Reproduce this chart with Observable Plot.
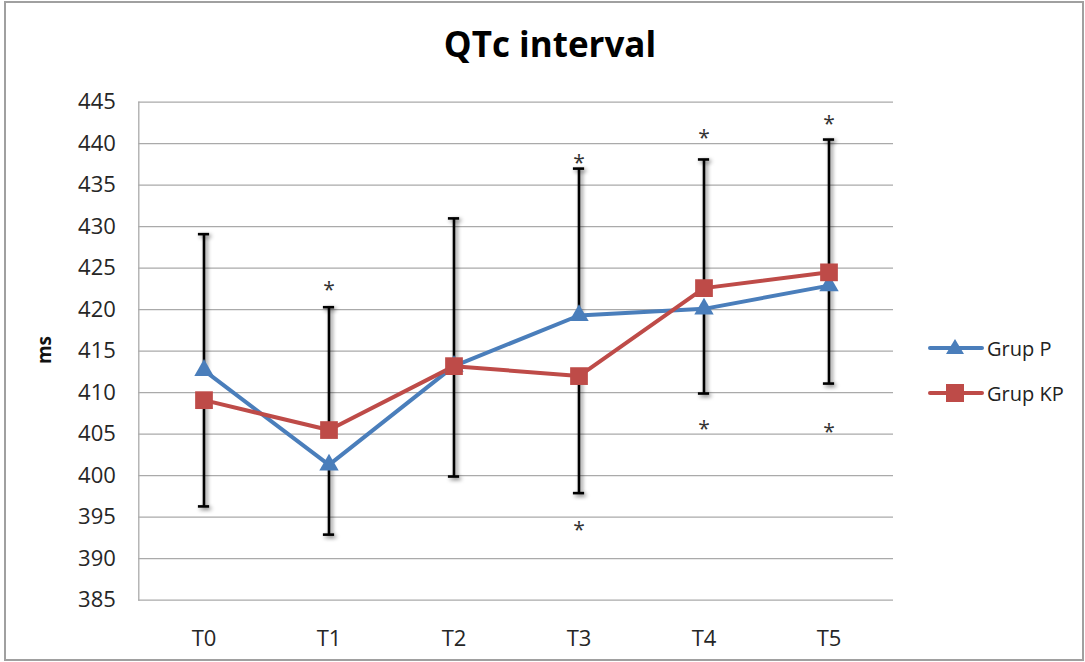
<!DOCTYPE html>
<html>
<head>
<meta charset="utf-8">
<script src="https://cdn.jsdelivr.net/npm/d3@7"></script>
<script src="https://cdn.jsdelivr.net/npm/@observablehq/plot@0.6"></script>
<style>
  html, body { margin: 0; padding: 0; background: #fff; }
  #wrap { position: relative; width: 1085px; height: 662px; overflow: hidden; font-family: "Open Sans", sans-serif; }
  #border { position: absolute; left: 4px; top: 1px; width: 1076px; height: 656px; border: 2px solid #a0a0a0; box-sizing: content-box; pointer-events: none; }
  #title { position: absolute; left: 0; top: 22px; width: 1100px; text-align: center; font-weight: 700; font-size: 35px; line-height: 44px; color: #000; }
  #ylabel { position: absolute; left: 44px; top: 350px; transform: translate(-50%, -50%) rotate(-90deg); font-weight: 700; font-size: 19px; color: #111; white-space: nowrap; }
  #chart { position: absolute; left: 0; top: 70px; }
  .leg { position: absolute; left: 928px; display: flex; align-items: center; font-size: 20px; color: #222; }
  .leg svg { margin-right: 3px; }
</style>
</head>
<body>
<div id="wrap">
  <div id="title">QTc interval</div>
  <div id="ylabel">ms</div>
  <div id="chart"></div>
  <div id="legend"></div>
  <div id="border"></div>
</div>
<script>
// ---- data ----
const categories = ["T0", "T1", "T2", "T3", "T4", "T5"];
const grupP  = [412.7, 401.3, 413.2, 419.3, 420.1, 422.9];
const grupKP = [409.1, 405.5, 413.2, 412.0, 422.6, 424.5];
const errTop    = [429.1, 420.3, 431.0, 437.0, 438.1, 440.5];
const errBottom = [396.3, 392.9, 399.9, 397.9, 409.9, 411.1];
const starCategories = ["T1", "T3", "T4", "T5", "T3", "T4", "T5"];
const starValues     = [423.0, 438.2, 441.2, 442.9, 394.0, 406.2, 405.8];
const yTicks = [385, 390, 395, 400, 405, 410, 415, 420, 425, 430, 435, 440, 445];
const seriesNames = ["Grup P", "Grup KP"];
const seriesColors = ["#4A7EBB", "#BE4B48"];
const seriesSymbols = ["triangle", "square"];

// ---- tables built from the arrays ----
const rows = categories.map((c, i) => ({
  cat: c,
  hi: Math.max(grupP[i], grupKP[i]),
  lo: Math.min(grupP[i], grupKP[i]),
  top: errTop[i],
  bottom: errBottom[i]
}));
const longData = [
  ...categories.map((c, i) => ({cat: c, value: grupP[i], series: seriesNames[0]})),
  ...categories.map((c, i) => ({cat: c, value: grupKP[i], series: seriesNames[1]}))
];
const stars = starCategories.map((c, i) => ({cat: c, value: starValues[i]}));

const chart = Plot.plot({
  width: 1085,
  height: 590,
  marginTop: 31.7,
  marginBottom: 60.3,
  marginLeft: 138.3,
  marginRight: 192,
  style: {fontFamily: "'Open Sans', sans-serif", fontSize: "22px", color: "#262626", background: "transparent"},
  x: {type: "band", domain: categories, padding: 0, label: null},
  y: {domain: [385, 445], ticks: yTicks, label: null},
  marks: [
    Plot.gridY(yTicks, {stroke: "#aaa", strokeOpacity: 1, strokeWidth: 1.3}),
    Plot.frame({anchor: "left", stroke: "#aaa", strokeWidth: 1.3}),
    Plot.axisY(yTicks, {tickSize: 0, tickPadding: 23, fontSize: 22, label: null, tickFormat: d => String(d)}),
    Plot.axisX({tickSize: 0, tickPadding: 30, fontSize: 22, label: null}),
    // error bars (upper from the higher series, lower from the lower series)
    Plot.ruleX(rows, {x: "cat", y1: "hi", y2: "top", stroke: "#000", strokeWidth: 2.6}),
    Plot.ruleX(rows, {x: "cat", y1: "lo", y2: "bottom", stroke: "#000", strokeWidth: 2.6}),
    Plot.tickY(rows, {x: "cat", y: "top", stroke: "#000", strokeWidth: 2.6, insetLeft: 56.9, insetRight: 56.9}),
    Plot.tickY(rows, {x: "cat", y: "bottom", stroke: "#000", strokeWidth: 2.6, insetLeft: 56.9, insetRight: 56.9}),
    // series lines and markers
    Plot.line(longData, {x: "cat", y: "value", z: "series", stroke: "series", strokeWidth: 4, strokeLinejoin: "round"}),
    Plot.dot(longData.filter(d => d.series === seriesNames[0]), {x: "cat", y: "value", symbol: () => "triangle", r: 7.2, fill: seriesColors[0], stroke: "none"}),
    Plot.dot(longData.filter(d => d.series === seriesNames[1]), {x: "cat", y: "value", symbol: () => "square", r: 10, fill: seriesColors[1], stroke: "none"}),
    // significance asterisks
    Plot.text(stars, {x: "cat", y: "value", text: () => "*", fontSize: 21, fill: "#333", dy: 5})
  ],
  color: {domain: seriesNames, range: seriesColors},
  symbol: {domain: seriesSymbols, range: seriesSymbols}
});
document.getElementById("chart").appendChild(chart);

// soft shadow on error bars, like the original
const svg = d3.select(chart);
const defs = svg.insert("defs", ":first-child");
const f = defs.append("filter").attr("id", "barShadow").attr("x", "-50%").attr("y", "-50%").attr("width", "200%").attr("height", "200%");
f.append("feGaussianBlur").attr("in", "SourceAlpha").attr("stdDeviation", 2.2).attr("result", "b");
f.append("feOffset").attr("in", "b").attr("dx", 1.5).attr("dy", 2).attr("result", "o");
f.append("feComponentTransfer").attr("in", "o").attr("result", "s").append("feFuncA").attr("type", "linear").attr("slope", 0.55);
const m = f.append("feMerge");
m.append("feMergeNode").attr("in", "s");
m.append("feMergeNode").attr("in", "SourceGraphic");
svg.selectAll('g[aria-label="rule"], g[aria-label="tick"]').attr("filter", "url(#barShadow)");

// legend
const legend = document.getElementById("legend");
const legY = [348, 393];
seriesNames.forEach((name, i) => {
  const item = document.createElement("div");
  item.className = "leg";
  item.style.top = (legY[i] - 14) + "px";
  const sym = i === 0
    ? '<polygon points="27,5 36,20 18,20" fill="' + seriesColors[i] + '"/>'
    : '<rect x="18" y="5" width="18" height="18" fill="' + seriesColors[i] + '"/>';
  item.innerHTML = '<svg width="56" height="28"><line x1="2" y1="14" x2="54" y2="14" stroke="' + seriesColors[i] + '" stroke-width="4" stroke-linecap="round"/>' + sym + '</svg><span>' + name + '</span>';
  legend.appendChild(item);
});
</script>
</body>
</html>
